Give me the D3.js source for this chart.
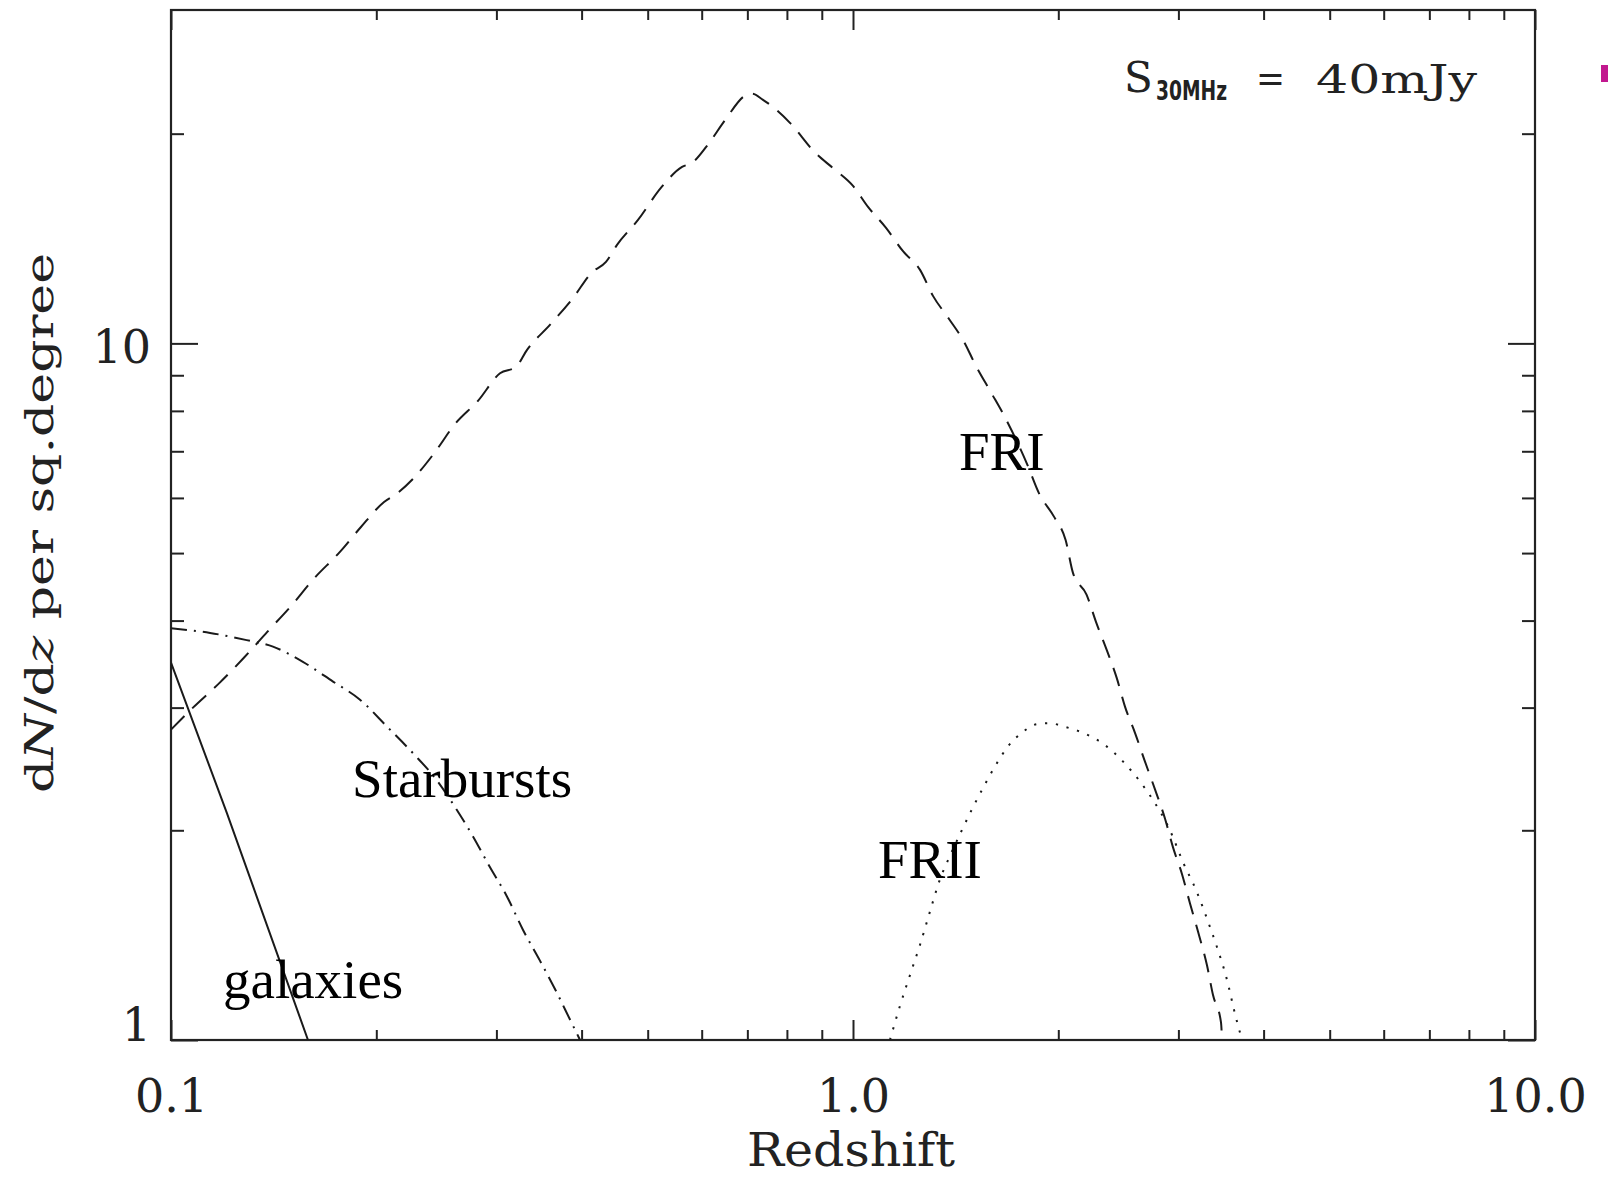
<!DOCTYPE html>
<html lang="en">
<head>
<meta charset="UTF-8">
<title>dN/dz per sq.degree</title>
<script src="https://d3js.org/d3.v7.min.js"></script>
<style>
  body { margin: 0; background: #fff; }
  svg { display: block; }
</style>
</head>
<body>
<div id="plot"></div>
<script>
// values (redshift z, dN/dz)
var friZ = [0.100, 0.1077, 0.1176, 0.1280, 0.1383, 0.1504, 0.1615, 0.1769, 0.1899, 0.2053,
            0.2145, 0.2264, 0.2430, 0.2609, 0.2819, 0.3037, 0.3205, 0.3327, 0.3594, 0.3886,
            0.4143, 0.4343, 0.4508, 0.4839, 0.5231, 0.5615, 0.5807, 0.6108, 0.6513, 0.6944,
            0.7110, 0.7379, 0.8083, 0.8796, 0.9379, 1.000, 1.052, 1.118, 1.184, 1.254,
            1.310, 1.383, 1.455, 1.512, 1.594, 1.665, 1.800, 1.874, 1.971, 2.050,
            2.102, 2.200, 2.272, 2.355, 2.436, 2.505, 2.591, 2.680, 2.772, 2.867,
            2.946, 3.037, 3.120, 3.206, 3.304, 3.372, 3.464, 3.476];
var friN = [2.79, 3.00, 3.25, 3.54, 3.85, 4.21, 4.58, 5.02, 5.45, 5.92,
            6.09, 6.39, 6.95, 7.66, 8.27, 9.06, 9.25, 9.79, 10.63, 11.62,
            12.65, 13.09, 13.85, 15.04, 16.73, 17.92, 18.16, 19.21, 21.01, 22.67,
            22.82, 22.37, 20.73, 18.79, 17.80, 16.83, 15.70, 14.65, 13.56, 12.75,
            11.70, 10.84, 10.05, 9.31, 8.50, 7.88, 6.71, 6.09, 5.64, 5.22,
            4.68, 4.36, 3.98, 3.63, 3.31, 3.01, 2.76, 2.51, 2.29, 2.08,
            1.89, 1.73, 1.57, 1.43, 1.28, 1.16, 1.06, 1.00];

var sbZ = [0.100, 0.1141, 0.1291, 0.1411, 0.1561, 0.1728, 0.1893, 0.2072, 0.2264, 0.2453,
           0.2624, 0.2772, 0.2936, 0.3106, 0.3281, 0.3475, 0.3678, 0.3846, 0.3979];
var sbN = [3.90, 3.84, 3.75, 3.67, 3.49, 3.27, 3.08, 2.82, 2.58, 2.36,
           2.14, 1.96, 1.77, 1.61, 1.44, 1.30, 1.17, 1.07, 1.00];

var galZ = [0.100, 0.1207, 0.1588];
var galN = [3.48, 2.12, 1.00];

var friiZ = [1.133, 1.172, 1.219, 1.254, 1.297, 1.341, 1.388, 1.444, 1.500, 1.551,
             1.615, 1.688, 1.776, 1.859, 1.945, 2.032, 2.174, 2.342, 2.489, 2.635,
             2.754, 2.916, 3.047, 3.194, 3.315, 3.417, 3.535, 3.632, 3.719];
var friiN = [1.00, 1.12, 1.26, 1.37, 1.53, 1.70, 1.84, 2.00, 2.16, 2.30,
             2.47, 2.64, 2.77, 2.84, 2.85, 2.82, 2.76, 2.65, 2.51, 2.35,
             2.21, 2.00, 1.80, 1.63, 1.48, 1.36, 1.22, 1.09, 1.00];

var xMajor = [0.1, 1, 10];
var xMajorLabels = ["0.1", "1.0", "10.0"];
var xMinor = [0.2, 0.3, 0.4, 0.5, 0.6, 0.7, 0.8, 0.9, 2, 3, 4, 5, 6, 7, 8, 9];
var yMajor = [1, 10];
var yMajorLabels = ["1", "10"];
var yMinor = [2, 3, 4, 5, 6, 7, 8, 9, 20];

var W = 1608, H = 1178;
// plot frame (pixels)
var frame = {left: 171, right: 1535, top: 10, bottom: 1040};
var ink = "#222";
var axisFont = "'DejaVu Serif', serif";
var labelFont = "'Liberation Serif', 'Times New Roman', serif";

var svg = d3.select("#plot").append("svg")
    .attr("width", W).attr("height", H);

var x = d3.scaleLog().domain([0.1, 10]).range([frame.left, frame.right]);
var y = d3.scaleLog().domain([1, 30]).range([frame.bottom, 11]);

svg.append("clipPath").attr("id", "frameClip")
  .append("rect").attr("x", frame.left).attr("y", frame.top)
  .attr("width", frame.right - frame.left).attr("height", frame.bottom - frame.top);

function styleAxis(g) {
    g.select(".domain").remove();
    g.selectAll(".tick line").attr("stroke", ink).attr("stroke-width", 2);
    g.selectAll(".tick text").attr("fill", ink)
        .style("font-family", axisFont).style("font-size", "46px");
}

// bottom axis
svg.append("g").attr("transform", `translate(0,${frame.bottom})`)
    .call(d3.axisBottom(x).tickValues(xMajor).tickSize(-20).tickPadding(39)
        .tickFormat(function(d, i){ return xMajorLabels[i]; }))
    .call(styleAxis);
svg.append("g").attr("transform", `translate(0,${frame.bottom})`)
    .call(d3.axisBottom(x).tickValues(xMinor).tickSize(-10).tickFormat(""))
    .call(styleAxis);
// top axis
svg.append("g").attr("transform", `translate(0,${frame.top})`)
    .call(d3.axisTop(x).tickValues(xMajor).tickSize(-20).tickFormat(""))
    .call(styleAxis);
svg.append("g").attr("transform", `translate(0,${frame.top})`)
    .call(d3.axisTop(x).tickValues(xMinor).tickSize(-10).tickFormat(""))
    .call(styleAxis);
// left axis
var yl = svg.append("g").attr("transform", `translate(${frame.left},0)`)
    .call(d3.axisLeft(y).tickValues(yMajor).tickSize(-27).tickPadding(20)
        .tickFormat(function(d, i){ return yMajorLabels[i]; }))
    .call(styleAxis);
yl.selectAll(".tick text").attr("dy", function(d){ return d === 1 ? "0.0em" : "0.42em"; });
svg.append("g").attr("transform", `translate(${frame.left},0)`)
    .call(d3.axisLeft(y).tickValues(yMinor).tickSize(-13).tickFormat(""))
    .call(styleAxis);
// right axis
svg.append("g").attr("transform", `translate(${frame.right},0)`)
    .call(d3.axisRight(y).tickValues(yMajor).tickSize(-27).tickFormat(""))
    .call(styleAxis);
svg.append("g").attr("transform", `translate(${frame.right},0)`)
    .call(d3.axisRight(y).tickValues(yMinor).tickSize(-13).tickFormat(""))
    .call(styleAxis);

svg.append("rect")
    .attr("x", frame.left).attr("y", frame.top)
    .attr("width", frame.right - frame.left).attr("height", frame.bottom - frame.top)
    .attr("fill", "none").attr("stroke", ink).attr("stroke-width", 2.2);

// curves
var line = d3.line()
    .x(function(d){ return x(d[0]); })
    .y(function(d){ return y(d[1]); })
    .curve(d3.curveMonotoneX);

var series = [
    {z: friZ,  n: friN,  dash: "19,11"},
    {z: sbZ,   n: sbN,   dash: "16,7,2,7"},
    {z: galZ,  n: galN,  dash: null},
    {z: friiZ, n: friiN, dash: "2.2,8.8"}
];

svg.append("g").attr("clip-path", "url(#frameClip)")
  .selectAll("path")
  .data(series)
  .enter()
  .append("path")
    .attr("d", function(s){ return line(d3.zip(s.z, s.n)); })
    .attr("fill", "none")
    .attr("stroke", "#1a1a1a")
    .attr("stroke-width", 2)
    .attr("stroke-dasharray", function(s){ return s.dash; });

// axis titles
svg.append("text")
    .attr("x", 851).attr("y", 1166)
    .attr("text-anchor", "middle")
    .attr("textLength", 208).attr("lengthAdjust", "spacingAndGlyphs")
    .style("font-family", axisFont).style("font-size", "46px")
    .attr("fill", ink)
    .text("Redshift");

var yt = svg.append("text")
    .attr("transform", "translate(53,523) rotate(-90)")
    .attr("text-anchor", "middle")
    .attr("textLength", 540).attr("lengthAdjust", "spacingAndGlyphs")
    .style("font-family", axisFont).style("font-size", "40px")
    .attr("fill", ink);
yt.append("tspan").text("d");
yt.append("tspan").style("font-style", "italic").text("N");
yt.append("tspan").text("/d");
yt.append("tspan").style("font-style", "italic").text("z");
yt.append("tspan").text(" per sq.degree");

// flux annotation
var ann = svg.append("g").attr("fill", ink);
ann.append("text").attr("x", 1124).attr("y", 92)
    .style("font-family", axisFont).style("font-size", "42px")
    .text("S");
ann.append("text").attr("x", 1156).attr("y", 100)
    .attr("textLength", 71).attr("lengthAdjust", "spacingAndGlyphs")
    .style("font-family", "'DejaVu Sans', sans-serif").style("font-size", "26px")
    .style("font-weight", "bold")
    .text("30MHz");
ann.append("text").attr("x", 1256).attr("y", 92)
    .attr("textLength", 29).attr("lengthAdjust", "spacingAndGlyphs")
    .style("font-family", axisFont).style("font-size", "40px")
    .text("=");
ann.append("text").attr("x", 1316).attr("y", 93)
    .attr("textLength", 161).attr("lengthAdjust", "spacingAndGlyphs")
    .style("font-family", axisFont).style("font-size", "39px")
    .text("40mJy");

// curve labels (anchored at left end of baseline)
var labels = [
    {t: "FRI",        z: 1.430,  n: 6.58},
    {t: "FRII",       z: 1.088,  n: 1.708},
    {t: "Starbursts", z: 0.1843, n: 2.233},
    {t: "galaxies",   z: 0.1192, n: 1.149}
];
svg.selectAll(".clabel")
  .data(labels)
  .enter()
  .append("text")
    .attr("class", "clabel")
    .attr("x", function(d){ return x(d.z); })
    .attr("y", function(d){ return y(d.n); })
    .style("font-family", labelFont).style("font-size", "55px")
    .attr("fill", "#000")
    .text(function(d){ return d.t; });

// small magenta mark at right edge
svg.append("rect")
    .attr("x", 1601).attr("y", 65).attr("width", 7).attr("height", 17)
    .attr("fill", "#c2188f");
</script>
</body>
</html>
